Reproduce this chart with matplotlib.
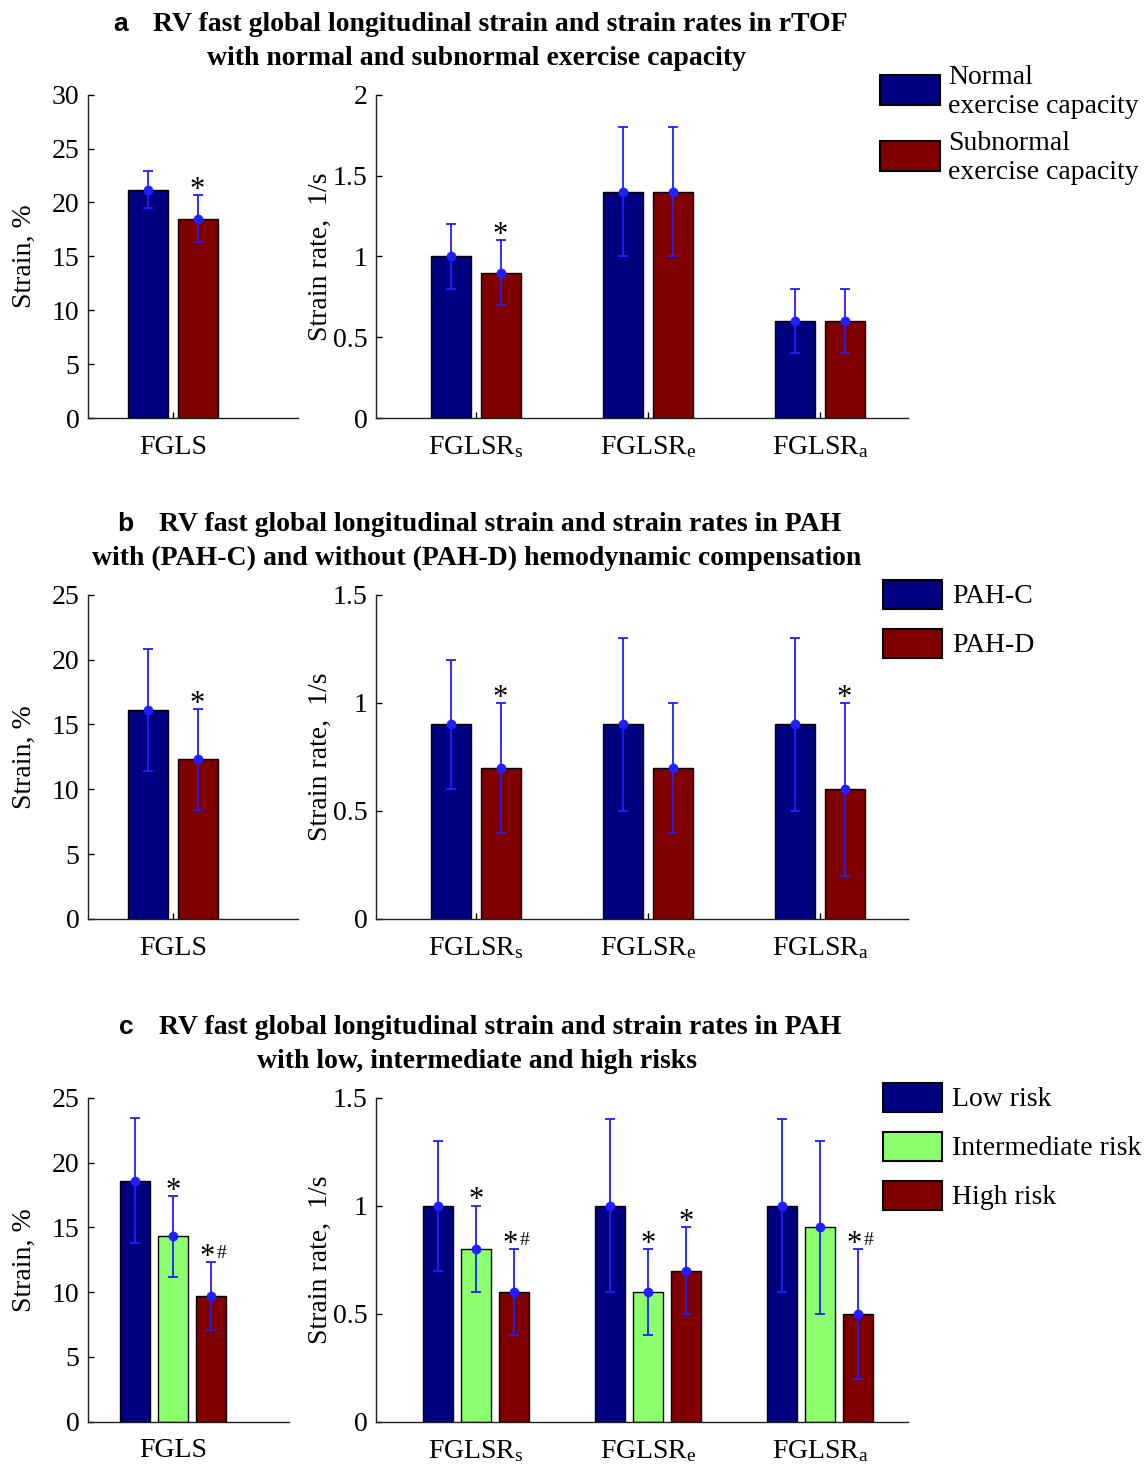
import matplotlib.pyplot as plt
from matplotlib.patches import Rectangle
import numpy as np

plt.rcParams["font.family"] = ["Liberation Serif", "DejaVu Serif"]
plt.rcParams["mathtext.fontset"] = "custom"
plt.rcParams["mathtext.rm"] = "Liberation Serif"
plt.rcParams["mathtext.it"] = "Liberation Serif:italic"

# Figure size in pixels (saved at 100 dpi)
W, H = 1148, 1464
FS = 20
NAVY = "#000080"
MAROON = "#800000"
LIGHT_GREEN = "#8cff6c"
ERR_BLUE = "#1f1fff"

rate_labels = ["FGLSR$_\\mathrm{s}$", "FGLSR$_\\mathrm{e}$", "FGLSR$_\\mathrm{a}$"]

# a: rTOF, normal vs subnormal exercise capacity
a_groups = ["Normal\nexercise capacity", "Subnormal\nexercise capacity"]
a_strain_mean = [21.2, 18.5]
a_strain_sd = [1.7, 2.2]
a_strain_sig = ["", "*"]
a_rate_mean = [[1.0, 1.4, 0.6], [0.9, 1.4, 0.6]]
a_rate_sd = [[0.2, 0.4, 0.2], [0.2, 0.4, 0.2]]
a_rate_sig = [["", "", ""], ["*", "", ""]]

# b: PAH with / without hemodynamic compensation
b_groups = ["PAH-C", "PAH-D"]
b_strain_mean = [16.1, 12.3]
b_strain_sd = [4.7, 3.9]
b_strain_sig = ["", "*"]
b_rate_mean = [[0.9, 0.9, 0.9], [0.7, 0.7, 0.6]]
b_rate_sd = [[0.3, 0.4, 0.4], [0.3, 0.3, 0.4]]
b_rate_sig = [["", "", ""], ["*", "", "*"]]

# c: PAH by risk group
c_groups = ["Low risk", "Intermediate risk", "High risk"]
c_strain_mean = [18.6, 14.3, 9.7]
c_strain_sd = [4.8, 3.1, 2.6]
c_strain_sig = ["", "*", "*#"]
c_rate_mean = [[1.0, 1.0, 1.0], [0.8, 0.6, 0.9], [0.6, 0.7, 0.5]]
c_rate_sd = [[0.3, 0.4, 0.4], [0.2, 0.2, 0.4], [0.2, 0.2, 0.3]]
c_rate_sig = [["", "", ""], ["*", "*", ""], ["*#", "*", "*#"]]

titles = [
    ("a", "RV fast global longitudinal strain and strain rates in rTOF",
     "with normal and subnormal exercise capacity"),
    ("b", "RV fast global longitudinal strain and strain rates in PAH",
     "with (PAH-C) and without (PAH-D) hemodynamic compensation"),
    ("c", "RV fast global longitudinal strain and strain rates in PAH",
     "with low, intermediate and high risks"),
]


def fig_rect(x0, x1, y_top, y_bot):
    return [x0 / W, 1 - y_bot / H, (x1 - x0) / W, (y_bot - y_top) / H]


def style_axes(ax, ymax, step, centers, labels, xlim):
    for side in ("top", "right"):
        ax.spines[side].set_visible(False)
    for side in ("left", "bottom"):
        ax.spines[side].set_linewidth(1.0)
        ax.spines[side].set_color("#222222")
    ax.set_ylim(0, ymax)
    ax.set_xlim(*xlim)
    yt = np.arange(0, ymax + step / 2, step)
    ax.set_yticks(yt)
    ax.set_yticklabels([f"{v:g}" for v in yt])
    ax.set_xticks(centers)
    ax.set_xticklabels(labels)
    ax.tick_params(axis="y", direction="in", length=4, width=1, pad=6, labelsize=FS)
    ax.tick_params(axis="x", direction="in", length=4, width=1, pad=12, labelsize=FS)


def add_sig(ax, x, top, mark):
    if not mark:
        return
    if "#" in mark:
        ax.annotate("*", xy=(x, top), xytext=(-3, -2), textcoords="offset points",
                    ha="center", va="baseline", fontsize=22)
        ax.annotate("#", xy=(x, top), xytext=(7.5, 3), textcoords="offset points",
                    ha="center", va="baseline", fontsize=14)
    else:
        ax.annotate("*", xy=(x, top), xytext=(0, -2), textcoords="offset points",
                    ha="center", va="baseline", fontsize=22)


def draw_bars(ax, centers, means, sds, sigs, colors, width, offsets):
    for mean, sd, sig, color, off in zip(means, sds, sigs, colors, offsets):
        x = np.asarray(centers) + off
        mean = np.asarray(mean)
        sd = np.asarray(sd)
        ax.bar(x, mean, width, color=color, edgecolor="black", linewidth=1.0, zorder=2)
        ax.errorbar(x, mean, yerr=sd, fmt="o", color=ERR_BLUE, ms=6, elinewidth=1.3,
                    capsize=3.5, capthick=1.3, zorder=3)
        for xi, top, mark in zip(x, mean + sd, sig):
            add_sig(ax, xi, top, mark)


def draw_legend(fig, labels, colors, box_x, box_tops, box_w, box_h, text_x):
    for label, color, top in zip(labels, colors, box_tops):
        rect = Rectangle((box_x / W, 1 - (top + box_h) / H), box_w / W, box_h / H,
                         transform=fig.transFigure, facecolor=color,
                         edgecolor="black", linewidth=1.5)
        fig.add_artist(rect)
        fig.text(text_x / W, 1 - (top + box_h / 2 + 2) / H, label, fontsize=FS,
                 ha="left", va="center", linespacing=1.2)


fig = plt.figure(figsize=(W / 100, H / 100), dpi=100)

# vertical pixel extent of each row: (top of y axis, zero line)
rows = [(94.7, 418), (594.7, 919), (1097.7, 1421.7)]
strain_max = [30, 25, 25]
rate_max = [2, 1.5, 1.5]
rate_step = [0.5, 0.5, 0.5]

panels = [
    (a_groups, a_strain_mean, a_strain_sd, a_strain_sig, a_rate_mean, a_rate_sd, a_rate_sig),
    (b_groups, b_strain_mean, b_strain_sd, b_strain_sig, b_rate_mean, b_rate_sd, b_rate_sig),
    (c_groups, c_strain_mean, c_strain_sd, c_strain_sig, c_rate_mean, c_rate_sd, c_rate_sig),
]

for i, (groups, s_mean, s_sd, s_sig, r_mean, r_sd, r_sig) in enumerate(panels):
    y_top, y_bot = rows[i]
    n = len(groups)
    if n == 2:
        colors = [NAVY, MAROON]
        width, offsets = 0.233, [-0.143, 0.143]
        left_right = 298
    else:
        colors = [NAVY, LIGHT_GREEN, MAROON]
        width, offsets = 0.18, [-0.221, 0.0, 0.221]
        left_right = 289

    ax1 = fig.add_axes(fig_rect(88, left_right, y_top, y_bot))
    style_axes(ax1, strain_max[i], 5, [1], ["FGLS"], (1 - 85 / 172, 1 + (left_right - 173) / 172))
    draw_bars(ax1, [1], [[m] for m in s_mean], [[s] for s in s_sd], [[g] for g in s_sig],
              colors, width, offsets)
    ax1.set_ylabel("Strain, %", fontsize=FS)
    ax1.yaxis.set_label_coords((37 - 88) / (left_right - 88), 0.5)

    ax2 = fig.add_axes(fig_rect(376, 908, y_top, y_bot))
    style_axes(ax2, rate_max[i], rate_step[i], [1, 2, 3], rate_labels,
               (1 - 100 / 172, 3 + 88 / 172))
    draw_bars(ax2, [1, 2, 3], r_mean, r_sd, r_sig, colors, width, offsets)
    ax2.set_ylabel("Strain rate,  1/s", fontsize=FS)
    ax2.yaxis.set_label_coords((333 - 376) / (908 - 376), 0.5)

    # legend boxes to the right of the strain-rate axes
    if i == 0:
        draw_legend(fig, groups, colors, 880, [75, 141], 60, 30, 948)
    else:
        tops = [y_top - 15 + k * 49.3 for k in range(n)]
        draw_legend(fig, groups, colors, 883, tops, 59, 29, 952)

# panel titles
fig.canvas.draw()
renderer = fig.canvas.get_renderer()
for i, (letter, line1, line2) in enumerate(titles):
    shift = rows[i][0] - rows[0][0]
    t1 = fig.text(500 / W, 1 - (31 + shift) / H, line1, fontsize=20, fontweight="bold",
                  ha="center", va="baseline")
    fig.text(477 / W, 1 - (65 + shift) / H, line2, fontsize=20, fontweight="bold",
             ha="center", va="baseline")
    bb = t1.get_window_extent(renderer=renderer)
    fig.text((bb.x0 - 25) / W, 1 - (31 + shift) / H, letter, fontsize=19,
             fontweight="bold", family="Liberation Sans", ha="right", va="baseline")

fig.savefig("out.png", dpi=100)
